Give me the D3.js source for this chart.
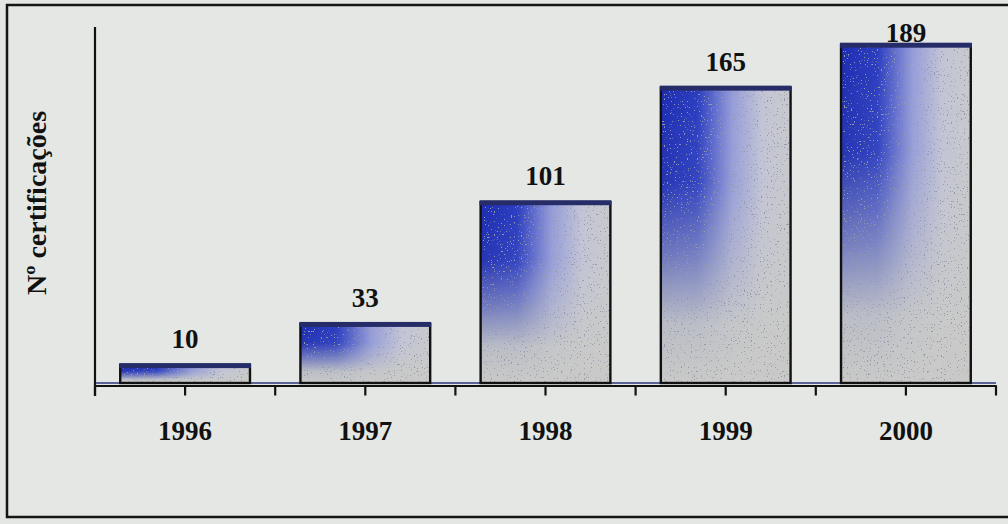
<!DOCTYPE html>
<html>
<head>
<meta charset="utf-8">
<script src="https://cdn.jsdelivr.net/npm/d3@7"></script>
<style>
  body { margin: 0; background: #e3e6e2; }
  svg { display: block; }
</style>
</head>
<body>
<div id="container"></div>
<script>
/* CONSTANTS AND GLOBALS */
const width = 1008;
const height = 524;

// data
const years = ["1996", "1997", "1998", "1999", "2000"];
const certifications = [10, 33, 101, 165, 189];
const yTitle = "Nº certificações";

const data = years.map((y, i) => ({ year: y, count: certifications[i] }));

const font = "Liberation Serif, Times New Roman, serif";

/* HTML ELEMENTS */
const svg = d3.select("#container")
    .append("svg")
    .attr("width", width)
    .attr("height", height)

const defs = svg.append("defs")

// horizontal blue -> grey
const hGrad = defs.append("linearGradient")
    .attr("id", "hgrad")
    .attr("x1", 0).attr("y1", 0).attr("x2", 1).attr("y2", 0)
hGrad.selectAll("stop")
    .data([[0, "#1c2cb2"], [0.28, "#2b3dc0"], [0.55, "#959cd9"], [0.78, "#c2c4d6"], [1, "#c8c9cc"]])
    .join("stop")
    .attr("offset", d => d[0])
    .attr("stop-color", d => d[1])

// vertical fade, used as mask
const vGrad = defs.append("linearGradient")
    .attr("id", "vgrad")
    .attr("x1", 0).attr("y1", 0).attr("x2", 0).attr("y2", 1)
vGrad.selectAll("stop")
    .data([[0, "#fff"], [0.32, "#f0f0f0"], [0.58, "#808080"], [0.8, "#151515"], [1, "#000"]])
    .join("stop")
    .attr("offset", d => d[0])
    .attr("stop-color", d => d[1])

defs.append("mask")
    .attr("id", "fade")
    .attr("maskContentUnits", "objectBoundingBox")
    .append("rect")
    .attr("width", 1).attr("height", 1)
    .attr("fill", "url(#vgrad)")

// sparse speckles like the printed original
const speck = defs.append("filter")
    .attr("id", "speck")
    .attr("x", 0).attr("y", 0).attr("width", 1).attr("height", 1)
speck.append("feTurbulence")
    .attr("type", "fractalNoise")
    .attr("baseFrequency", 0.7)
    .attr("numOctaves", 1)
    .attr("seed", 3)
speck.append("feColorMatrix")
    .attr("type", "matrix")
    .attr("values", "0 0 0 0 0.3  0 0 0 0 0.32  0 0 0 0 0.4  0 0 0 -22 7.4")
speck.append("feComposite")
    .attr("in2", "SourceGraphic")
    .attr("operator", "in")

// outer frame
svg.append("rect")
    .attr("x", 7)
    .attr("y", 5)
    .attr("width", 1010)
    .attr("height", 512)
    .attr("fill", "#e4e7e3")
    .attr("stroke", "#151515")
    .attr("stroke-width", 2.5)

/* SCALES */
const xScale = d3.scaleBand()
    .domain(years)
    .range([95, 996])
    .paddingInner(0.28)
    .paddingOuter(0.14)

const yScale = d3.scaleLinear()
    .domain([0, 200])
    .range([383, 25])

const base = yScale(0);

// y axis line
svg.append("line")
    .attr("x1", 95).attr("x2", 95)
    .attr("y1", yScale(200) + 2).attr("y2", base + 13)
    .attr("stroke", "#111")
    .attr("stroke-width", 2.2)

// floor
svg.append("line")
    .attr("x1", 96).attr("x2", 996)
    .attr("y1", base).attr("y2", base)
    .attr("stroke", "#5a6398")
    .attr("stroke-width", 2)

// x axis with ticks at centres, extra ticks at band boundaries
const xAxis = svg.append("g")
    .attr("transform", `translate(0, ${base + 2.5})`)
    .call(d3.axisBottom(xScale).tickSize(10).tickSizeOuter(0).tickPadding(25))

xAxis.select(".domain")
    .attr("stroke", "#111")
    .attr("stroke-width", 2.2)
xAxis.selectAll(".tick line")
    .attr("stroke", "#111")
    .attr("stroke-width", 2.2)
xAxis.selectAll(".tick text")
    .attr("font-family", font)
    .attr("font-weight", "bold")
    .attr("font-size", 27)
    .attr("fill", "#111")

const step = xScale.step();
const bounds = [xScale(years[0]) - step * 0.14].concat(years.map(d => xScale(d) + xScale.bandwidth() + step * 0.14))
xAxis.selectAll("line.bound")
    .data(bounds)
    .join("line")
    .attr("class", "bound")
    .attr("x1", d => d).attr("x2", d => d)
    .attr("y1", 0).attr("y2", 10)
    .attr("stroke", "#111")
    .attr("stroke-width", 2.2)

// bars
const bars = svg.selectAll("g.bar")
    .data(data)
    .join("g")
    .attr("class", "bar")

bars.append("rect")
    .attr("x", d => xScale(d.year))
    .attr("y", d => yScale(d.count))
    .attr("width", xScale.bandwidth())
    .attr("height", d => base - yScale(d.count))
    .attr("fill", "#c9cac8")

bars.append("rect")
    .attr("x", d => xScale(d.year))
    .attr("y", d => yScale(d.count))
    .attr("width", xScale.bandwidth())
    .attr("height", d => base - yScale(d.count))
    .attr("fill", "url(#hgrad)")
    .attr("mask", "url(#fade)")

bars.append("rect")
    .attr("x", d => xScale(d.year))
    .attr("y", d => yScale(d.count))
    .attr("width", xScale.bandwidth())
    .attr("height", d => base - yScale(d.count))
    .attr("fill", "#fff")
    .attr("filter", "url(#speck)")

bars.append("rect")
    .attr("x", d => xScale(d.year))
    .attr("y", d => yScale(d.count))
    .attr("width", xScale.bandwidth())
    .attr("height", d => base - yScale(d.count))
    .attr("fill", "none")
    .attr("stroke", "#111")
    .attr("stroke-width", 2.4)

// top edge of each bar
bars.append("rect")
    .attr("x", d => xScale(d.year) - 1)
    .attr("y", d => yScale(d.count) - 2)
    .attr("width", xScale.bandwidth() + 2)
    .attr("height", 5)
    .attr("fill", "#252c68")

// value labels
bars.append("text")
    .attr("x", d => xScale(d.year) + xScale.bandwidth() / 2)
    .attr("y", d => Math.max(yScale(d.count) - 17, 42))
    .attr("text-anchor", "middle")
    .attr("font-family", font)
    .attr("font-weight", "bold")
    .attr("font-size", 27)
    .attr("fill", "#111")
    .text(d => d.count)

// y title
svg.append("text")
    .attr("transform", "translate(46, 203) rotate(-90)")
    .attr("text-anchor", "middle")
    .attr("font-family", font)
    .attr("font-weight", "bold")
    .attr("font-size", 28)
    .attr("fill", "#111")
    .text(yTitle)
</script>
</body>
</html>
